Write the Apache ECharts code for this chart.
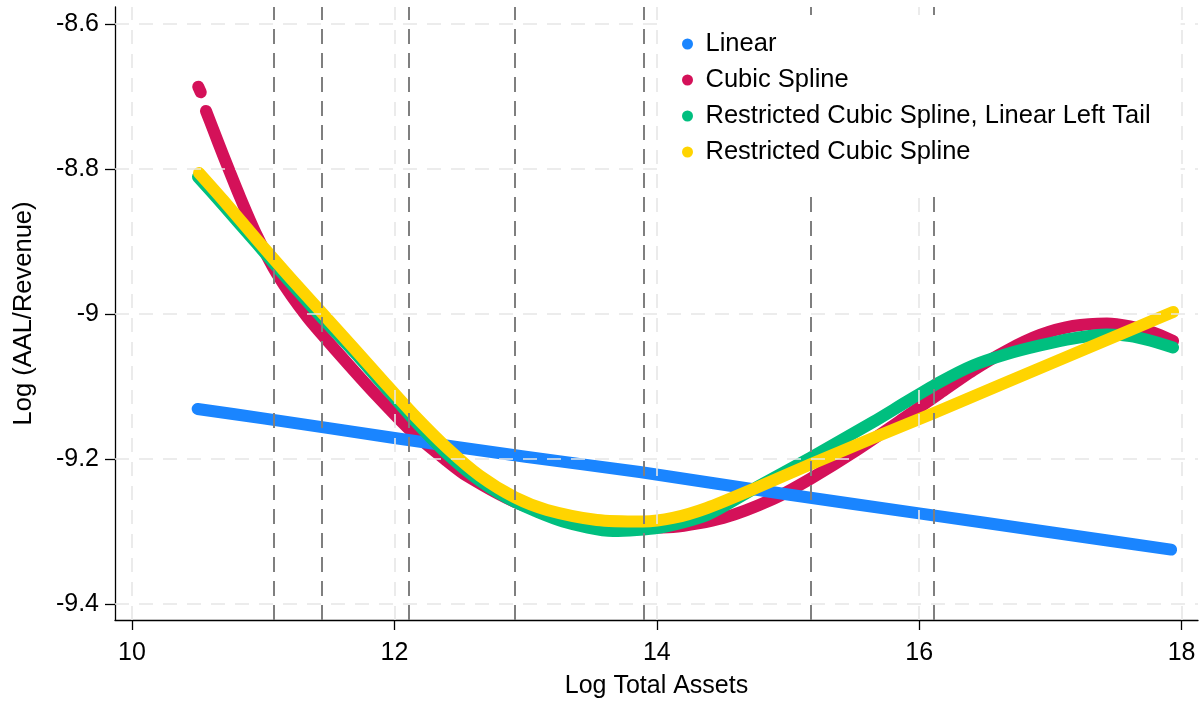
<!DOCTYPE html>
<html>
<head>
<meta charset="utf-8">
<script src="https://cdn.jsdelivr.net/npm/echarts@6/dist/echarts.min.js"></script>
<style>
html,body{margin:0;padding:0;background:#fff;}
#chart{width:1203px;height:704px;}
</style>
</head>
<body>
<div id="chart"></div>
<script>
// ---- Data ----
const xTicks = [10, 12, 14, 16, 18];
const yTicks = [-9.4, -9.2, -9, -8.8, -8.6];
const knots = [11.077, 11.446, 12.106, 12.921, 13.897, 15.168, 16.111];

const seriesNames = ['Linear', 'Cubic Spline', 'Restricted Cubic Spline, Linear Left Tail', 'Restricted Cubic Spline'];

const linearData = [
  [10.50, -9.131], [11.0, -9.144], [12.0, -9.171], [13.0, -9.197], [13.87, -9.218],
  [15.0, -9.249], [16.0, -9.275], [17.0, -9.301], [17.92, -9.325]
];

const cubicTop = [[10.505, -8.6865], [10.524, -8.6942]];
const cubicData = [
  [10.564, -8.720], [10.617, -8.7448], [10.694, -8.7807], [10.823, -8.8386], [10.953, -8.8924],
  [11.105, -8.9448], [11.334, -9.0041], [11.585, -9.0566], [11.867, -9.1131], [12.142, -9.1641],
  [12.401, -9.2028], [12.553, -9.2234], [12.919, -9.2593], [13.285, -9.2807], [13.666, -9.2917],
  [13.895, -9.2945], [14.123, -9.2938], [14.505, -9.2814], [14.886, -9.2552], [15.168, -9.2276],
  [15.526, -9.1876], [15.907, -9.1407], [16.159, -9.1090], [16.410, -9.0779], [16.669, -9.0503],
  [16.921, -9.0290], [17.172, -9.0166], [17.431, -9.0131], [17.607, -9.0172], [17.782, -9.0255],
  [17.935, -9.0372]
];

const rcsLeftData = [
  [10.503, -8.8110], [10.694, -8.8497], [10.953, -8.9034], [11.204, -8.9559], [11.456, -9.0069],
  [11.707, -9.0552], [11.921, -9.0993], [12.142, -9.1448], [12.401, -9.1931], [12.652, -9.2303],
  [12.919, -9.2593], [13.285, -9.2862], [13.666, -9.2993], [14.024, -9.2945], [14.383, -9.2772],
  [14.764, -9.2386], [15.168, -9.1986], [15.648, -9.1490], [15.907, -9.1207], [16.159, -9.0938],
  [16.410, -9.0710], [16.669, -9.0552], [16.921, -9.0434], [17.172, -9.0338], [17.431, -9.0283],
  [17.607, -9.0303], [17.759, -9.0366], [17.935, -9.0462]
];

const rcsData = [
  [10.511, -8.8055], [10.694, -8.8428], [10.953, -8.8979], [11.204, -8.9497], [11.456, -9.0000],
  [11.707, -9.0503], [11.921, -9.0938], [12.142, -9.1379], [12.401, -9.1848], [12.652, -9.2234],
  [12.919, -9.2531], [13.163, -9.2703], [13.544, -9.2841], [13.895, -9.2862], [14.123, -9.2814],
  [14.383, -9.2676], [14.764, -9.2393], [15.168, -9.2076], [15.648, -9.1710], [16.113, -9.1366],
  [16.616, -9.0979], [17.149, -9.0572], [17.683, -9.0166], [17.935, -8.9972]
];

// ---- Styles ----
const FONT = '"Liberation Sans", Arial, sans-serif';
const colors = {
  blue: '#1a85ff', red: '#d41159', green: '#00bf7f', yellow: '#ffd400'
};
const LW = 12;

function curve(name, data, color) {
  return {
    type: 'line', name: name, data: data,
    showSymbol: false, symbol: 'circle', smooth: 0.25,
    color: color,
    lineStyle: { color: color, width: LW, cap: 'round', join: 'round' },
    emphasis: { disabled: true }, silent: true, z: 3
  };
}

const chart = echarts.init(document.getElementById('chart'), null, { renderer: 'canvas' });

const option = {
  animation: false,
  backgroundColor: '#ffffff',
  textStyle: { fontFamily: FONT },
  grid: { left: 115, right: 5, top: 7, bottom: 84, containLabel: false, outerBoundsMode: 'none' },
  legend: {
    data: seriesNames.map(n => ({ name: n, icon: 'circle' })),
    orient: 'vertical',
    left: 662, top: 15,
    backgroundColor: '#ffffff',
    padding: [16, 30, 28, 20],
    itemWidth: 26, itemHeight: 11, itemGap: 10,
    textStyle: { fontSize: 25.5, color: '#000', fontFamily: FONT, lineHeight: 25 },
    selectedMode: false,
    z: 10
  },
  xAxis: {
    type: 'value',
    min: 9.8704, max: 18.125,
    name: 'Log Total Assets', nameLocation: 'middle', nameGap: 54,
    nameTextStyle: { fontSize: 25, color: '#000', fontFamily: FONT },
    axisLine: { show: true, onZero: false, lineStyle: { color: '#000', width: 1.3 } },
    axisTick: { show: true, length: 10, lineStyle: { color: '#000', width: 1.3 }, customValues: xTicks },
    axisLabel: { fontSize: 25, color: '#000', margin: 21, fontFamily: FONT, customValues: xTicks },
    splitLine: { show: false }
  },
  yAxis: {
    type: 'value',
    min: -9.4221, max: -8.5766,
    name: 'Log (AAL/Revenue)', nameLocation: 'middle', nameGap: 78,
    nameTextStyle: { fontSize: 25.5, color: '#000', fontFamily: FONT },
    axisLine: { show: true, onZero: false, lineStyle: { color: '#000', width: 1.3 } },
    axisTick: { show: true, length: 10, lineStyle: { color: '#000', width: 1.3 }, customValues: yTicks },
    axisLabel: { fontSize: 25, color: '#000', margin: 16, fontFamily: FONT, customValues: yTicks },
    splitLine: { show: false }
  },
  series: [
    {
      type: 'line', name: '_grid', data: [], silent: true, z: 1,
      markLine: {
        silent: true, animation: false, symbol: ['none', 'none'],
        label: { show: false },
        lineStyle: { color: '#e6e6e6', width: 1.6, type: [14, 10] },
        emphasis: { disabled: true },
        data: xTicks.map(v => ({ xAxis: v })).concat(yTicks.map(v => ({ yAxis: v })))
      }
    },
    {
      type: 'line', name: '_knots', data: [], silent: true, z: 2,
      markLine: {
        silent: true, animation: false, symbol: ['none', 'none'],
        label: { show: false },
        lineStyle: { color: '#7f7f7f', width: 2, type: [15, 9] },
        emphasis: { disabled: true },
        data: knots.map(v => ({ xAxis: v }))
      }
    },
    curve('Cubic Spline', cubicData, colors.red),
    curve('Cubic Spline', cubicTop, colors.red),
    curve('Linear', linearData, colors.blue),
    curve('Restricted Cubic Spline, Linear Left Tail', rcsLeftData, colors.green),
    curve('Restricted Cubic Spline', rcsData, colors.yellow)
  ]
};

chart.setOption(option);
</script>
</body>
</html>
